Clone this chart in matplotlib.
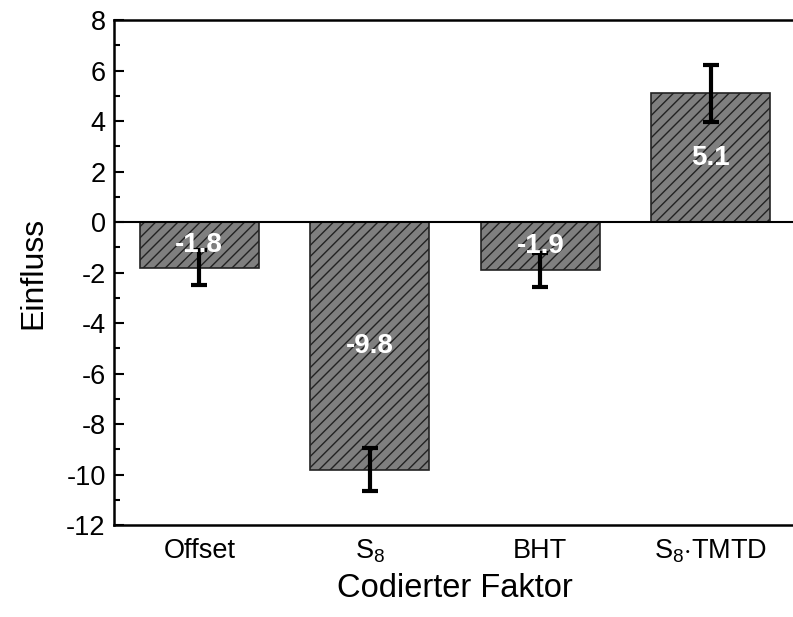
import numpy as np
import matplotlib
matplotlib.use("Agg")
import matplotlib.pyplot as plt

plt.rcParams['font.family'] = ['Liberation Sans', 'DejaVu Sans']
plt.rcParams['mathtext.fontset'] = 'custom'
plt.rcParams['mathtext.rm'] = 'Liberation Sans'
plt.rcParams['mathtext.it'] = 'Liberation Sans:italic'
plt.rcParams['hatch.linewidth'] = 1.0
plt.rcParams['axes.unicode_minus'] = False

# data
faktoren = ['Offset', r'S$_8$', 'BHT', r'S$_8$$\cdot$TMTD']
einfluss = [-1.8, -9.8, -1.9, 5.1]
fehler = [0.68, 0.87, 0.66, 1.13]
labels = ['-1.8', '-9.8', '-1.9', '5.1']

fig = plt.figure(figsize=(7.93, 6.17), dpi=100)
ax = fig.add_axes([0.1438, 0.149, 0.8600, 0.8185])

x = np.arange(len(faktoren))
ax.bar(x, einfluss, width=0.7, color='#7f7f7f', edgecolor='#222222',
       linewidth=1.2, hatch='///', zorder=2)
ax.errorbar(x, einfluss, yerr=fehler, fmt='none', ecolor='black',
            elinewidth=3, capsize=6, capthick=3, zorder=4)
ax.axhline(0, color='black', lw=1.5, zorder=3)

for xi, v, t in zip(x, einfluss, labels):
    ax.text(xi, v / 2, t, ha='center', va='center', color='white',
            fontsize=20, fontweight='bold', zorder=5)

ax.set_xlim(-0.5, 3.5)
ax.set_ylim(-12, 8)
ax.set_yticks(np.arange(-12, 9, 2))
ax.set_yticks(np.arange(-11, 8, 2), minor=True)
ax.set_xticks(x)
ax.set_xticklabels(faktoren)

ax.tick_params(axis='y', which='major', direction='in', length=7, width=1.5,
               labelsize=19.5, pad=6)
ax.tick_params(axis='y', which='minor', direction='in', length=4, width=1.5)
ax.tick_params(axis='x', length=0, labelsize=19.5, pad=9)

for s in ['left', 'bottom', 'top']:
    ax.spines[s].set_linewidth(1.8)
ax.spines['right'].set_visible(False)

ax.set_ylabel('Einfluss', fontsize=23, labelpad=13)
ax.set_xlabel('Codierter Faktor', fontsize=23.5, labelpad=6)

fig.savefig('out.png', dpi=100)
